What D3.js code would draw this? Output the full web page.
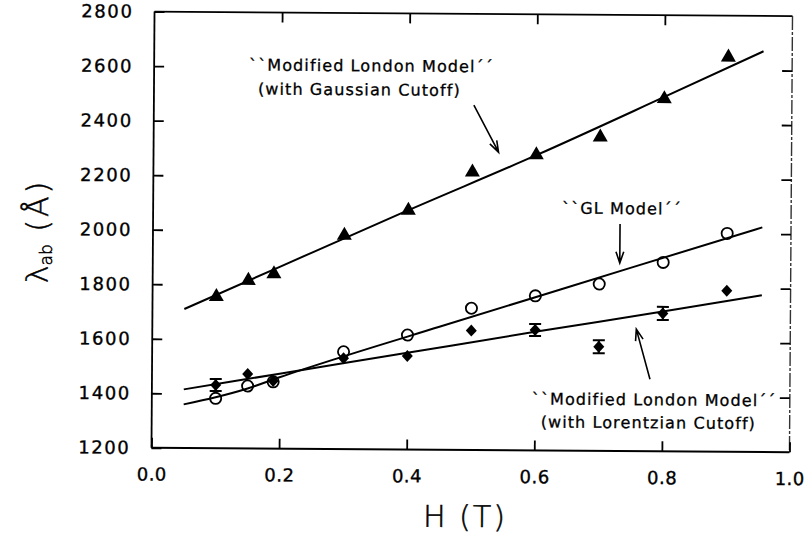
<!DOCTYPE html>
<html>
<head>
<meta charset="utf-8">
<script src="https://cdn.jsdelivr.net/npm/d3@7"></script>
<style>
  html, body { margin: 0; padding: 0; background: #fff; }
  svg { display: block; }
</style>
</head>
<body>
<svg id="chart" width="807" height="536"></svg>
<script>
// Applied field H (T) of each measurement
const fieldH = [0.10, 0.15, 0.19, 0.30, 0.40, 0.50, 0.60, 0.70, 0.80, 0.90];

// Penetration depth λ_ab (Å) extracted with each model
const gaussianLambda = [1764, 1824, 1849, 1992, 2085, 2227, 2292, 2359, 2501, 2655];
const glLambda       = [1383, 1429, 1445, 1557, 1620, 1720, 1767, 1812, 1893, 2001];
const lorentzLambda  = [1432, 1473, 1448, 1533, 1543, 1638, 1642, 1582, 1706, 1791];
const lorentzError   = [22, 0, 0, 0, 0, 0, 22, 24, 24, 0];

// Smooth guide curves through each data set
const gaussFitH = [0.05, 0.20, 0.40, 0.60, 0.80, 0.955];
const gaussFit  = [1710, 1868, 2078, 2283, 2500, 2670];
const glFitH    = [0.05, 0.10, 0.15, 0.20, 0.30, 0.45, 0.60, 0.75, 0.955];
const glFit     = [1360, 1387, 1420, 1462, 1540, 1651, 1762, 1873, 2024];
const lorFitH   = [0.05, 0.20, 0.40, 0.60, 0.80, 0.955];
const lorFit    = [1415, 1475, 1555, 1635, 1713, 1775];

// Axis ticks
const xTicks = [0.0, 0.2, 0.4, 0.6, 0.8, 1.0];
const yTicks = [1200, 1400, 1600, 1800, 2000, 2200, 2400, 2600, 2800];

// Annotation texts
const gaussLabel = ["``Modified London Model\u00B4\u00B4", "(with Gaussian Cutoff)"];
const glLabel = "``GL Model\u00B4\u00B4";
const lorLabel = ["``Modified London Model\u00B4\u00B4", "(with Lorentzian Cutoff)"];

const FONT = "'DejaVu Sans', 'Noto Sans', sans-serif";
const svg = d3.select("#chart");

const pLeft = 153, pRight = 791, pTop = 13.8, pBottom = 450;
const x = d3.scaleLinear().domain([0, 1]).range([pLeft, pRight]);
const y = d3.scaleLinear().domain([1200, 2800]).range([pBottom, pTop]);

// the whole plate sits a touch skewed on the page
const g = svg.append("g").attr("transform", "rotate(0.4, 471, 231)");

// ---- frame ----
const frame = g.append("g").attr("stroke", "#000").attr("fill", "none");
frame.append("line").attr("x1", pLeft).attr("x2", pRight).attr("y1", pTop).attr("y2", pTop).attr("stroke-width", 1.8);
frame.append("line").attr("x1", pLeft).attr("x2", pRight).attr("y1", pBottom).attr("y2", pBottom).attr("stroke-width", 2);
frame.append("line").attr("x1", pLeft).attr("x2", pLeft).attr("y1", pTop).attr("y2", pBottom).attr("stroke-width", 1.8);
frame.append("line").attr("x1", pRight).attr("x2", pRight).attr("y1", pTop).attr("y2", pBottom)
  .attr("stroke-width", 1.4).attr("stroke", "#333").attr("stroke-dasharray", "14,2,3,2");

// ---- axes (ticks point inward) ----
function styleAxis(sel, size, spacing) {
  sel.select(".domain").remove();
  sel.selectAll(".tick line").attr("stroke", "#000").attr("stroke-width", 1.8);
  sel.selectAll(".tick text").attr("font-family", FONT).attr("font-size", size)
    .attr("fill", "#000").attr("stroke", "#000").attr("stroke-width", 0.35)
    .attr("letter-spacing", spacing + "px");
}

g.append("g").attr("transform", `translate(0,${pBottom})`)
  .call(d3.axisBottom(x).tickValues(xTicks).tickSize(-10).tickPadding(20).tickFormat(d3.format(".1f")))
  .call(s => styleAxis(s, 18, 0.5));

g.append("g").attr("transform", `translate(${pLeft},0)`)
  .call(d3.axisLeft(y).tickValues(yTicks).tickSize(-10).tickPadding(21).tickFormat(d3.format("d")))
  .call(s => styleAxis(s, 18, 1.6));

g.append("g").attr("transform", `translate(0,${pTop})`)
  .call(d3.axisTop(x).tickValues(xTicks.slice(1, -1)).tickSize(-10).tickFormat(""))
  .call(s => styleAxis(s, 18, 0));

g.append("g").attr("transform", `translate(${pRight},0)`)
  .call(d3.axisRight(y).tickValues(yTicks.slice(1, -1)).tickSize(-10).tickFormat(""))
  .call(s => styleAxis(s, 18, 0));

// ---- axis titles ----
g.append("text")
  .attr("x", 467).attr("y", 527)
  .attr("text-anchor", "middle")
  .attr("font-family", FONT).attr("font-size", 30).attr("font-weight", 200)
  .attr("stroke", "#000").attr("stroke-width", 0.5)
  .attr("letter-spacing", "2px")
  .text("H (T)");

const yt = g.append("text")
  .attr("transform", "translate(48,234) rotate(-90)")
  .attr("text-anchor", "middle")
  .attr("stroke", "#000").attr("stroke-width", 0.5)
  .attr("font-family", FONT).attr("font-weight", 200);
yt.append("tspan").attr("font-size", 30).text("λ");
yt.append("tspan").attr("font-size", 17).attr("dy", 4).text("ab");
yt.append("tspan").attr("font-size", 30).attr("dy", -4).attr("letter-spacing", "3px").text(" (Å)");

// ---- guide curves ----
const line = d3.line().x(d => x(d[0])).y(d => y(d[1])).curve(d3.curveMonotoneX);
const curves = [
  d3.zip(gaussFitH, gaussFit),
  d3.zip(glFitH, glFit),
  d3.zip(lorFitH, lorFit)
];
g.append("g").selectAll("path").data(curves).join("path")
  .attr("d", line)
  .attr("fill", "none").attr("stroke", "#000").attr("stroke-width", 2);

// ---- markers ----
const tri = (w, h) => `M0,${-h / 2}L${w / 2},${h / 2}L${-w / 2},${h / 2}Z`;
const dia = (w, h) => `M0,${-h / 2}L${w / 2},0L0,${h / 2}L${-w / 2},0Z`;

// error bars on the Lorentzian-cutoff points
const eb = g.append("g").attr("stroke", "#000").attr("stroke-width", 2);
fieldH.forEach((h, i) => {
  const e = lorentzError[i];
  if (!e) return;
  const cx = x(h), y0 = y(lorentzLambda[i] - e), y1 = y(lorentzLambda[i] + e);
  eb.append("line").attr("x1", cx).attr("x2", cx).attr("y1", y0).attr("y2", y1);
  eb.append("line").attr("x1", cx - 6).attr("x2", cx + 6).attr("y1", y0).attr("y2", y0);
  eb.append("line").attr("x1", cx - 6).attr("x2", cx + 6).attr("y1", y1).attr("y2", y1);
});

g.append("g").selectAll("path").data(d3.zip(fieldH, lorentzLambda)).join("path")
  .attr("transform", d => `translate(${x(d[0])},${y(d[1])})`)
  .attr("d", dia(11, 12)).attr("fill", "#000");

g.append("g").selectAll("circle").data(d3.zip(fieldH, glLambda)).join("circle")
  .attr("cx", d => x(d[0])).attr("cy", d => y(d[1])).attr("r", 5.6)
  .attr("fill", "none").attr("stroke", "#000").attr("stroke-width", 1.8);

g.append("g").selectAll("path").data(d3.zip(fieldH, gaussianLambda)).join("path")
  .attr("transform", d => `translate(${x(d[0])},${y(d[1])})`)
  .attr("d", tri(15, 13)).attr("fill", "#000");

// ---- annotations ----
function label(lines, x0, y0, dy) {
  const t = g.append("text").attr("font-family", FONT).attr("font-size", 16)
    .attr("letter-spacing", "1.1px").attr("fill", "#000")
    .attr("stroke", "#000").attr("stroke-width", 0.3);
  lines.forEach((s, i) => t.append("tspan").attr("x", x0 + (i ? 9 : 0)).attr("y", y0 + i * dy).text(s));
}
label(gaussLabel, 248, 72, 24);
label([glLabel], 562, 213, 0);
label(lorLabel, 533, 404, 23);

function arrow(x1, y1, x2, y2) {
  const a = Math.atan2(y2 - y1, x2 - x1), L = 12, s = 0.33;
  const p = "M" + x1 + "," + y1 + "L" + x2 + "," + y2 +
    "M" + (x2 - L * Math.cos(a - s)) + "," + (y2 - L * Math.sin(a - s)) +
    "L" + x2 + "," + y2 +
    "L" + (x2 - L * Math.cos(a + s)) + "," + (y2 - L * Math.sin(a + s));
  g.append("path").attr("d", p).attr("fill", "none").attr("stroke", "#000").attr("stroke-width", 1.6);
}
arrow(473, 105, 498, 152);
arrow(620, 223, 620, 262);
arrow(651, 378, 637, 328);
</script>
</body>
</html>
